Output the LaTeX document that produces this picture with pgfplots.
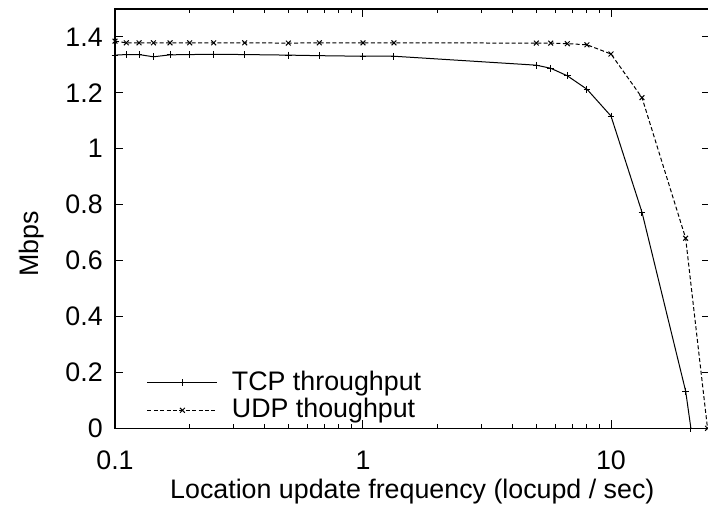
\documentclass[border=0pt]{standalone}
\usepackage{pgfplots}
\pgfplotsset{compat=1.18}
\usepackage{fontspec}
\setmainfont{Liberation Sans}
\begin{document}
\fontsize{13.4pt}{15pt}\selectfont
\begin{tikzpicture}
\begin{axis}[
  at={(0,0)}, anchor=south west,
  scale only axis,
  width=297.35pt, height=209.65pt,
  xmode=log,
  xmin=0.1, xmax=25,
  ymin=0, ymax=1.5,
  xtick={0.1,1,10},
  xticklabels={0.1,1,10},
  ytick={0,0.2,0.4,0.6,0.8,1,1.2,1.4},
  yticklabels={0,0.2,0.4,0.6,0.8,1,1.2,1.4},
  tick align=inside,
  major tick length=4pt,
  minor tick length=2.2pt,
  axis line style={line width=0.6pt},
  every tick/.style={black, line width=0.5pt},
  xticklabel style={yshift=-6.5pt},
  yticklabel style={xshift=-1.5pt},
  xlabel={Location update frequency (locupd / sec)},
  ylabel={Mbps},
  xlabel style={at={(axis description cs:0.5,-0.152)}, anchor=center},
  ylabel style={at={(axis description cs:-0.14,0.44)}, anchor=center},
  legend style={draw=none, fill=none, at={(axis description cs:0.043,-0.005)}, anchor=south west,
    cells={anchor=west}, row sep=-2pt, column sep=5pt, font=\fontsize{13.4pt}{15pt}\selectfont},
  legend image code/.code={%
    \draw[mark repeat=2, mark phase=2, #1] plot coordinates {(0pt,0pt) (17.5pt,0pt) (35pt,0pt)};},
]
\addplot[black, line width=0.5pt, mark=+, mark size=1.7pt, mark options={solid}] coordinates {
(0.1,1.335) (0.1111,1.337) (0.125,1.337) (0.1429,1.329) (0.1667,1.336) (0.2,1.337)
(0.25,1.338) (0.3333,1.337) (0.5,1.335) (0.6667,1.333) (1,1.331) (1.3333,1.331)
(5,1.299) (5.714,1.288) (6.667,1.261) (8,1.213) (10,1.117) (13.333,0.773) (20,0.133) (21,0)
};
\addlegendentry{TCP throughput}
\addplot[black, line width=0.5pt, dash pattern=on 2pt off 1.2pt, mark=x, mark size=1.7pt, mark options={solid}] coordinates {
(0.1,1.385) (0.1111,1.379) (0.125,1.379) (0.1429,1.379) (0.1667,1.379) (0.2,1.379)
(0.25,1.379) (0.3333,1.379) (0.5,1.378) (0.6667,1.379) (1,1.379) (1.3333,1.379)
(5,1.378) (5.714,1.378) (6.667,1.376) (8,1.372) (10,1.339) (13.333,1.183) (20,0.680) (24.5,0)
};
\addlegendentry{UDP thoughput}
\end{axis}
\pgfresetboundingbox
\useasboundingbox (-57.5pt,-39.85pt) rectangle (296.5pt,214.15pt);
\end{tikzpicture}
\end{document}
